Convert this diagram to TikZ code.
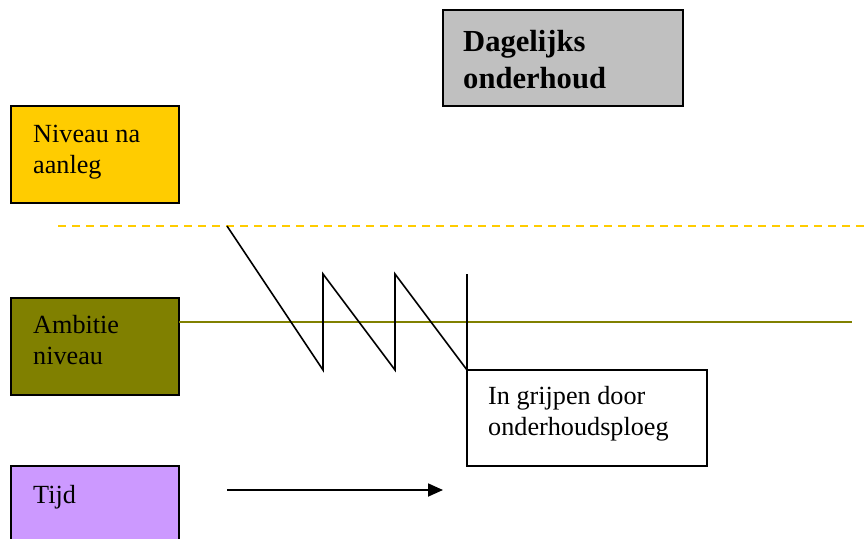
\documentclass[tikz,border=0pt]{standalone}
\usepackage{fontspec}
\setmainfont{Liberation Serif}
\usetikzlibrary{arrows.meta}
\definecolor{cyellow}{HTML}{FFCC00}
\definecolor{colive}{HTML}{808000}
\definecolor{cpurple}{HTML}{CC99FF}
\definecolor{cgray}{HTML}{C0C0C0}
\begin{document}
\begin{tikzpicture}[x=1pt,y=-1pt,
  box/.style={draw=black,line width=1.6pt},
  lbl/.style={anchor=base west,inner sep=0pt,align=left,font=\fontsize{26.2}{31}\selectfont},
  blbl/.style={anchor=base west,inner sep=0pt,align=left,font=\fontsize{30.6}{37}\selectfont\bfseries},
  zig/.style={draw=black,line width=1.6pt,line join=miter}]
\useasboundingbox (0,0) rectangle (867,538);
% boxes
\path[box,fill=cyellow] (11,106) rectangle (179,203);
\path[box,fill=colive] (11,298) rectangle (179,395);
\path[box,fill=cpurple] (11,466) rectangle (179,545);
\path[box,fill=cgray] (443,10) rectangle (683,106);
% level lines
\coordinate (d0) at (58,226);
\coordinate (d1) at (867,226);
\draw[cyellow,line width=1.8pt,dash pattern=on 8pt off 6pt] (d0) -- (d1);
\coordinate (o0) at (179,322);
\coordinate (o1) at (852,322);
\draw[colive,line width=2pt] (o0) -- (o1);
% zigzag
\coordinate (z0) at (227,226);
\coordinate (z1) at (323,370);
\coordinate (z2) at (323,274);
\coordinate (z3) at (395,370);
\coordinate (z4) at (395,274);
\coordinate (z5) at (467,370);
\coordinate (z6) at (467,274);
\path[zig] (z0) -- (z1) -- (z2) -- (z3) -- (z4) -- (z5) -- (z6);
% intervention box
\path[box,fill=white] (467,370) rectangle (707,466);
% time arrow
\coordinate (t0) at (227,490);
\coordinate (t1) at (443,490);
\draw[line width=1.8pt,-{Triangle[length=15pt,width=13pt]}] (t0) -- (t1);
% texts (base anchor = baseline of last line)
\node[lbl] (niveau) at (33,173) {Niveau na\\aanleg};
\node[lbl] (ambitie) at (33,364) {Ambitie\\niveau};
\node[lbl] (tijd) at (33,503) {Tijd};
\node[blbl] (dagelijks) at (463,88) {Dagelijks\\onderhoud};
\node[lbl] (ingrijpen) at (488,435) {In grijpen door\\onderhoudsploeg};
\end{tikzpicture}
\end{document}
